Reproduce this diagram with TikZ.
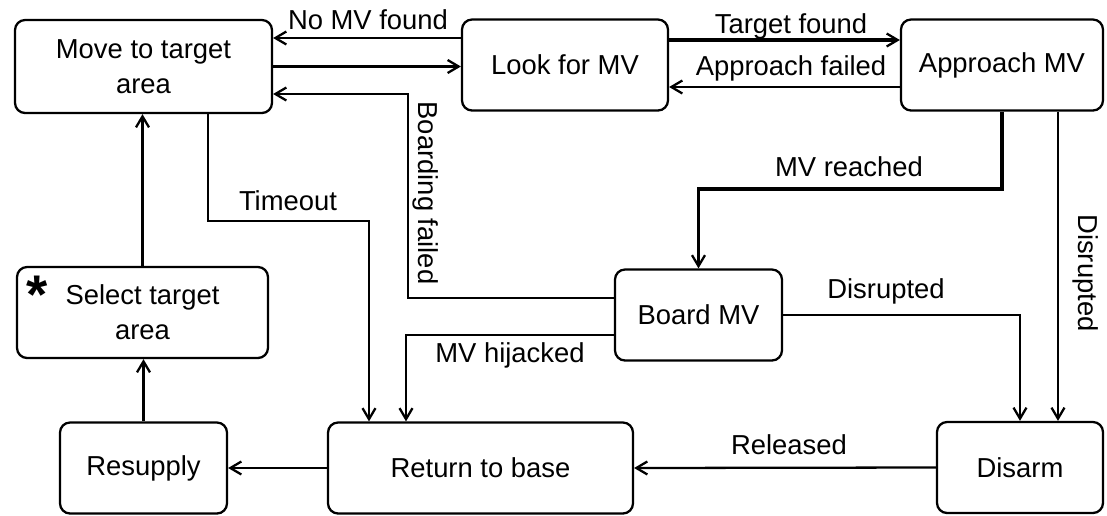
\documentclass[tikz,border=0pt]{standalone}
\usepackage{fontspec}
\setmainfont{Liberation Sans}
\usetikzlibrary{arrows.meta, positioning, calc}

\begin{document}
\begin{tikzpicture}[x=0.02cm, y=-0.02cm,
    state/.style={draw, rounded corners=0.2cm, line width=1.3pt, minimum height=1.82cm, align=center, font=\fontsize{15.6}{20}\selectfont},
    lbl/.style={font=\fontsize{15.6}{20}\selectfont, inner sep=0pt, anchor=base},
    arr/.style={line width=1.3pt, -{Straight Barb[length=0.22cm, width=0.26cm, line width=1.3pt]}},
    heavyline/.style={line width=1.8pt}]
    \fill[white] (0,0) rectangle (1107,515);

    \node[state, minimum width=5.14cm, minimum height=1.86cm] (move) at (143.5,66.5) {Move to target\\area};
    \node[state, minimum width=4.12cm] (look) at (565,65) {Look for MV};
    \node[state, minimum width=4.04cm] (approach) at (1002,65) {Approach MV};
    \node[state, minimum width=5.02cm] (select) at (142.5,312.5) {Select target\\area};
    \node[state, minimum width=3.34cm] (board) at (698.5,315) {Board MV};
    \node[state, minimum width=3.34cm] (resupply) at (143.5,468) {Resupply};
    \node[state, minimum width=6.1cm] (rtb) at (480.5,468) {Return to base};
    \node[state, minimum width=3.32cm] (disarm) at (1020,467.5) {Disarm};

    \coordinate (bf) at (408,94);
    \coordinate (tmo) at (369,221);
    \coordinate (mvr) at (849,189);

    \draw[arr] ([yshift=0.54cm]look.west) -- ([yshift=0.54cm]look.west -| move.east);
    \draw[arr] (move.east) -- (move.east -| look.west);
    \draw[arr] ([yshift=0.34cm]board.west) -| (bf) -- (bf -| move.east);
    \draw[arr] ([xshift=1.29cm]move.south) |- (tmo) -- (tmo |- rtb.north);
    \draw[arr] ([yshift=-0.4cm]board.west) -| ([xshift=-1.49cm]rtb.north);
    \draw[arr] (select.north) -- (select.north |- move.south);
    \draw[arr] (resupply.north) -- (resupply.north |- select.south);
    \draw[arr] (rtb.west) -- (resupply.east);
    \draw[arr, heavyline] ([yshift=0.5cm]look.east) -- ([yshift=0.5cm]look.east -| approach.west);
    \draw[arr] ([yshift=-0.44cm]approach.west) -- ([yshift=-0.44cm]approach.west -| look.east);
    \draw[arr, heavyline] (approach.south) |- (mvr) -| (board.north);
    \draw[arr] (board.east) -| (disarm.north);
    \draw[arr] ([xshift=1.12cm]approach.south) -- ([xshift=1.12cm]approach.south |- disarm.north);
    \draw[arr] (disarm.west) -- (rtb.east);

    \node[lbl] (lnomv) at (368,29) {No MV found};
    \node[lbl] (ltarget) at (791,33) {Target found};
    \node[lbl] (lfail) at (791,75) {Approach failed};
    \node[lbl, rotate=-90] (lboard) at (418,193) {Boarding failed};
    \node[lbl] (ltime) at (288,210) {Timeout};
    \node[lbl] (lhijack) at (510,362) {MV hijacked};
    \node[lbl] (lreach) at (849,176) {MV reached};
    \node[lbl] (ldisrupt) at (886,298) {Disrupted};
    \node[lbl, rotate=-90] (ldisruptv) at (1078,273) {Disrupted};
    \node[lbl] (lrelease) at (789,454) {Released};
    \node[lbl, font=\fontsize{31}{31}\selectfont\bfseries] (star) at (37,313) {*};
\end{tikzpicture}
\end{document}
